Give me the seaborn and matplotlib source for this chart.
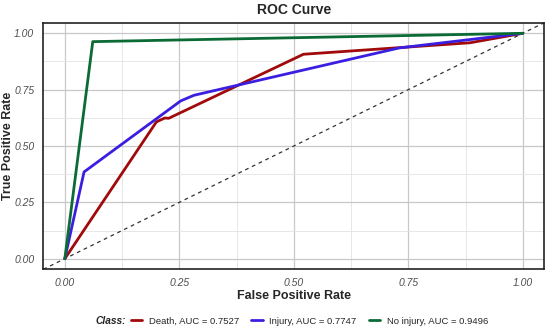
import numpy as np
import pandas as pd
import matplotlib
matplotlib.use("Agg")
import matplotlib.pyplot as plt
import seaborn as sns
from matplotlib.lines import Line2D

# Data
death_fpr = [0.0, 0.200, 0.218, 0.227, 0.521, 0.885, 1.0]
death_tpr = [0.0, 0.607, 0.624, 0.623, 0.907, 0.958, 1.0]
injury_fpr = [0.0, 0.042, 0.253, 0.282, 0.730, 1.0]
injury_tpr = [0.0, 0.385, 0.700, 0.725, 0.935, 1.0]
noinj_fpr = [0.0, 0.061, 1.0]
noinj_tpr = [0.0, 0.963, 1.0]
labels = ["Death, AUC = 0.7527", "Injury, AUC = 0.7747", "No injury, AUC = 0.9496"]
colors = ["#A00A0A", "#3A1FE0", "#0B6B35"]
ticks = [0.0, 0.25, 0.5, 0.75, 1.0]
tick_labels = ["0.00", "0.25", "0.50", "0.75", "1.00"]

frames = []
for lab, fx, ty in zip(labels, [death_fpr, injury_fpr, noinj_fpr],
                       [death_tpr, injury_tpr, noinj_tpr]):
    frames.append(pd.DataFrame({"fpr": fx, "tpr": ty, "cls": lab}))
df = pd.concat(frames, ignore_index=True)

sns.set_theme(style="whitegrid")
plt.rcParams["font.family"] = ["Liberation Sans", "DejaVu Sans"]

fig = plt.figure(figsize=(5.5, 3.32), dpi=100)
ax = fig.add_axes([43.3 / 550, 1 - 269.3 / 332, (544.3 - 43.3) / 550, (269.3 - 22.7) / 332])

ax.axline((0, 0), slope=1, color="#333333", linestyle=(0, (3, 3)), linewidth=0.9, zorder=1)
sns.lineplot(data=df, x="fpr", y="tpr", hue="cls", palette=colors, sort=False,
             estimator=None, linewidth=2.0, ax=ax, legend=False, zorder=3)

ax.set_xlim(-0.047, 1.047)
ax.set_ylim(-0.047, 1.047)
ax.set_xticks(ticks)
ax.set_yticks(ticks)
ax.set_xticklabels(tick_labels, fontstyle="italic", fontsize=7.5, color="#4D4D4D")
ax.set_yticklabels(tick_labels, fontstyle="italic", fontsize=7.5, color="#4D4D4D")
ax.set_xticks([0.125, 0.375, 0.625, 0.875], minor=True)
ax.set_yticks([0.125, 0.375, 0.625, 0.875], minor=True)
ax.grid(True, which="major", color="#C8C8C8", linewidth=0.9)
ax.grid(True, which="minor", color="#E3E3E3", linewidth=0.6)
ax.tick_params(which="both", length=0)
ax.tick_params(axis="y", pad=6.5)
ax.tick_params(axis="x", pad=6)
for s in ax.spines.values():
    s.set_color("#222222")
    s.set_linewidth(1.2)
ax.set_facecolor("white")
ax.set_xlabel("False Positive Rate", fontweight="bold", fontsize=9, labelpad=2)
ax.set_ylabel("True Positive Rate", fontweight="bold", fontsize=9)
ax.yaxis.set_label_coords(-0.058, 0.5)
fig.suptitle("ROC Curve", fontweight="bold", fontsize=10, x=(43.3 + 544.3) / 2 / 550,
             y=1 - 10 / 332, va="center")

handles = [Line2D([0], [0], color=c, linewidth=2) for c in colors]
fig.text(95 / 550, 1 - 321 / 332, "Class:", fontweight="bold", fontstyle="italic",
         fontsize=7.3, va="center", ha="left")
fig.legend(handles, labels, loc="center left", bbox_to_anchor=(131 / 550, 1 - 321 / 332),
           ncol=3, frameon=False, fontsize=6.8, handlelength=1.2, handletextpad=0.7,
           columnspacing=1.3, borderaxespad=0, borderpad=0)

fig.savefig("out.png", dpi=100, facecolor="white")
